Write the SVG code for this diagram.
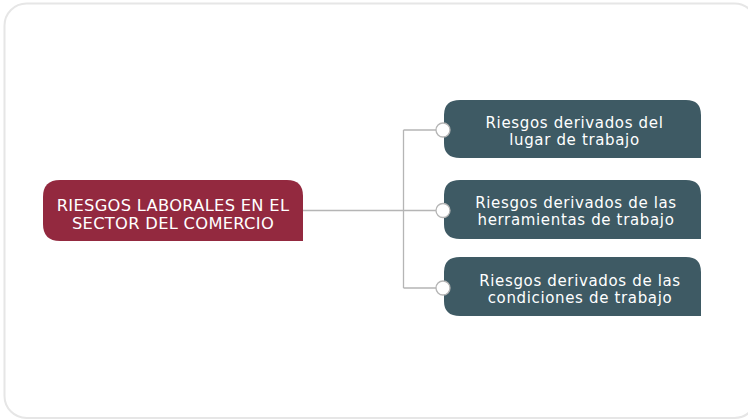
<svg xmlns="http://www.w3.org/2000/svg" width="748" height="420" viewBox="0 0 748 420">
<style>
.frame{fill:#ffffff;stroke:#e6e6e6;stroke-width:2}
.root{fill:#93293f}
.leaf{fill:#3e5a64}
.conn{fill:none;stroke:#b5b5b5;stroke-width:1.3}
.dot{fill:#ffffff;stroke:#b5b5b5;stroke-width:1.3}
.t1{font-family:"DejaVu Sans",Verdana,sans-serif;font-size:16.3px;letter-spacing:0.3px;fill:#ffffff;text-anchor:middle}
.t2{font-family:"DejaVu Sans",Verdana,sans-serif;font-size:15px;letter-spacing:0.65px;fill:#ffffff;text-anchor:middle}
</style>
<rect class="frame" x="4.5" y="3.5" width="752" height="414.5" rx="22"/>
<g id="connectors">
<path class="conn" d="M303 210.5 H403.5 M403.5 130 V288 M403.5 130 H437 M403.5 210.5 H437 M403.5 288 H437"/>
</g>
<g id="root">
<path class="root" d="M60 180 H287 Q303 180 303 196 V241 H60 Q43 241 43 224 V197 Q43 180 60 180 Z"/>
<text class="t1" x="173" y="210.5">RIESGOS LABORALES EN EL</text>
<text class="t1" x="173" y="229">SECTOR DEL COMERCIO</text>
</g>
<g id="node1">
<path class="leaf" d="M460 100 H686 Q701 100 701 115 V158 H460 Q444 158 444 143 V115 Q444 100 460 100 Z"/>
<circle class="dot" cx="443" cy="130" r="7"/>
<text class="t2" x="574.5" y="127.5">Riesgos derivados del</text>
<text class="t2" x="574.5" y="144.5">lugar de trabajo</text>
</g>
<g id="node2">
<path class="leaf" d="M460 180 H686 Q701 180 701 195 V239 H460 Q444 239 444 224 V195 Q444 180 460 180 Z"/>
<circle class="dot" cx="443" cy="210.5" r="7"/>
<text class="t2" x="576" y="208">Riesgos derivados de las</text>
<text class="t2" x="576" y="225">herramientas de trabajo</text>
</g>
<g id="node3">
<path class="leaf" d="M460 257 H686 Q701 257 701 272 V316 H460 Q444 316 444 301 V272 Q444 257 460 257 Z"/>
<circle class="dot" cx="443" cy="288" r="7"/>
<text class="t2" x="580" y="285.5">Riesgos derivados de las</text>
<text class="t2" x="580" y="302.5">condiciones de trabajo</text>
</g>
</svg>
